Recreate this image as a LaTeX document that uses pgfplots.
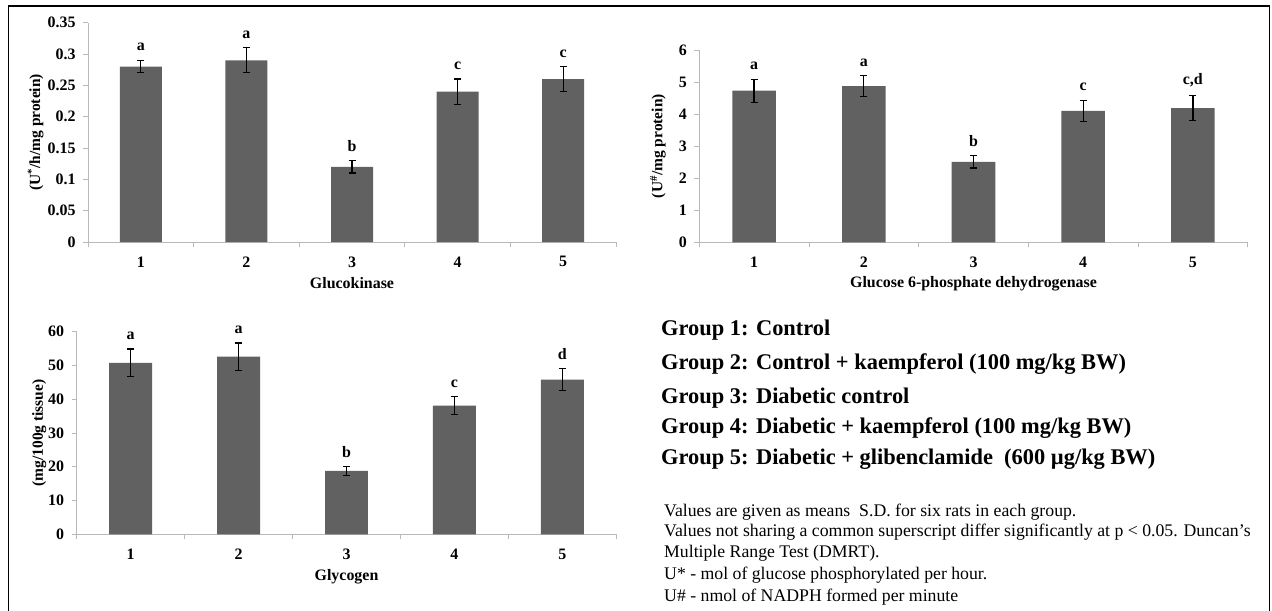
\documentclass[border=0pt]{standalone}
\usepackage{fontspec}
\setmainfont{Liberation Serif}
\usepackage{pgfplots}
\pgfplotsset{compat=1.18}
\definecolor{barcol}{RGB}{96,97,96}
\definecolor{axcol}{RGB}{185,185,185}
\pgfplotsset{
  mybar/.style={
    scale only axis, ymin=0, xmin=0.5, xmax=5.5,
    axis x line=bottom, axis y line=left,
    axis line style={axcol, line width=0.9bp, -},
    tick align=outside,
    major tick length=5bp, minor tick length=5bp,
    tick style={axcol, line width=0.9bp},
    xtick={1,2,3,4,5},
    major x tick style={draw=none},
    minor xtick={0.5,1.5,2.5,3.5,4.5,5.5},
    ticklabel style={font=\fontsize{16}{16}\selectfont\bfseries, text=black},
    xticklabel style={yshift=-6bp},
    yticklabel style={xshift=-4bp},
    /pgf/number format/assume math mode=true,
    /pgf/number format/fixed, /pgf/number format/precision=2,
    xlabel style={font=\fontsize{16}{16}\selectfont\bfseries},
    ylabel style={font=\fontsize{15.5}{15.5}\selectfont\bfseries},
    clip=false,
  },
  bars/.style={ybar, bar width=42bp, fill=barcol, draw=none,
    error bars/y dir=both, error bars/y explicit,
    error bars/error bar style={black, line width=1.3bp},
    error bars/error mark options={rotate=90, mark size=3.5bp, black, line width=1.3bp}},
  lets/.style={draw=none, mark=none, nodes near coords, point meta=explicit symbolic,
    nodes near coords style={anchor=south, inner sep=0pt, yshift=9bp,
      font=\fontsize{16}{16}\selectfont\bfseries}},
}
\begin{document}
\begin{tikzpicture}
\useasboundingbox (0,0) rectangle (1272bp,-611bp);
\draw[line width=1.3bp] (8.3bp,-611bp) -- (8.3bp,-6bp) -- (1269.3bp,-6bp) -- (1269.3bp,-611bp);

% Glucokinase
\begin{axis}[mybar, at={(88bp,-242bp)}, anchor=south west,
  width=528bp, height=219.3bp, ymax=0.35,
  ytick={0,0.05,0.1,0.15,0.2,0.25,0.3,0.35},
  xlabel={Glucokinase}, ylabel={(U\textsuperscript{*}/h/mg protein)},
  xlabel style={at={(axis description cs:0.5,-0.187)}, anchor=center},
  ylabel style={at={(axis description cs:-0.099,0.5)}, anchor=center}]
\addplot[bars] coordinates {(1,0.28) +- (0,0.01) (2,0.29) +- (0,0.02) (3,0.12) +- (0,0.01) (4,0.24) +- (0,0.02) (5,0.26) +- (0,0.02)};
\addplot[lets] coordinates {(1,0.29) [a] (2,0.31) [a] (3,0.13) [b] (4,0.26) [c] (5,0.28) [c]};
\end{axis}

% G6PD
\begin{axis}[mybar, at={(699.3bp,-242.3bp)}, anchor=south west,
  width=548.4bp, height=192.3bp, ymax=6,
  ytick={0,1,2,3,4,5,6},
  xlabel={Glucose 6-phosphate dehydrogenase}, ylabel={(U\textsuperscript{\#}/mg protein)},
  xlabel style={at={(axis description cs:0.5,-0.213)}, anchor=center},
  ylabel style={at={(axis description cs:-0.0753,0.5)}, anchor=center}]
\addplot[bars, bar width=43.6bp] coordinates {(1,4.73) +- (0,0.36) (2,4.87) +- (0,0.33) (3,2.51) +- (0,0.19) (4,4.10) +- (0,0.33) (5,4.19) +- (0,0.38)};
\addplot[lets] coordinates {(1,5.09) [a] (2,5.20) [a] (3,2.70) [b] (4,4.43) [c] (5,4.57) [{c,d}]};
\end{axis}

% Glycogen
\begin{axis}[mybar, at={(76.7bp,-534.3bp)}, anchor=south west,
  width=539.6bp, height=202.6bp, ymax=60,
  ytick={0,10,20,30,40,50,60},
  xlabel={Glycogen}, ylabel={(mg/100g tissue)},
  xlabel style={at={(axis description cs:0.5,-0.209)}, anchor=center},
  ylabel style={at={(axis description cs:-0.0694,0.5)}, anchor=center}]
\addplot[bars, bar width=42.9bp] coordinates {(1,50.8) +- (0,4.1) (2,52.6) +- (0,4.1) (3,18.8) +- (0,1.3) (4,38.1) +- (0,2.7) (5,45.8) +- (0,3.3)};
\addplot[lets] coordinates {(1,54.9) [a] (2,56.7) [a] (3,20.1) [b] (4,40.8) [c] (5,49.1) [d]};
\end{axis}

% group legend
\begin{scope}[every node/.style={anchor=base west, inner sep=0pt, font=\fontsize{22.5}{22.5}\selectfont\bfseries}]
\node at (661bp,-335.7bp) {Group 1: Control};
\node at (661bp,-369.7bp) {Group 2: Control + kaempferol (100 mg/kg BW)};
\node at (661bp,-403.7bp) {Group 3: Diabetic control};
\node at (661bp,-433.7bp) {Group 4: Diabetic + kaempferol (100 mg/kg BW)};
\node at (661bp,-464.7bp) {Group 5: Diabetic + glibenclamide\ \ (600 µg/kg BW)};
\end{scope}
\begin{scope}[every node/.style={anchor=base west, inner sep=0pt, font=\fontsize{17.8}{17.8}\selectfont}]
\node at (664bp,-516bp) {Values are given as means\ \ S.D. for six rats in each group.};
\node at (664bp,-536.5bp) {Values not sharing a common superscript differ significantly at p < 0.05. Duncan’s};
\node at (664bp,-557.7bp) {Multiple Range Test (DMRT).};
\node at (664bp,-579.3bp) {U* - mol of glucose phosphorylated per hour.};
\node at (664bp,-601bp) {U\# - nmol of NADPH formed per minute};
\end{scope}
\end{tikzpicture}
\end{document}
